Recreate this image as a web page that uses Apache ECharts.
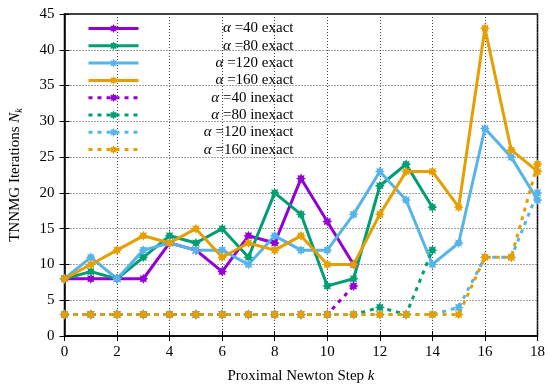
<!DOCTYPE html>
<html>
<head>
<meta charset="utf-8">
<script src="https://cdn.jsdelivr.net/npm/echarts@6/dist/echarts.min.js"></script>
<style>html,body{margin:0;padding:0;background:#fff;}#c{width:548px;height:389px;}</style>
</head>
<body>
<div id="c"></div>
<script>
var steps = [0,1,2,3,4,5,6,7,8,9,10,11,12,13,14,15,16,17,18];
var exact40  = [8,8,8,8,13,12,9,14,13,22,16,10];
var exact80  = [8,9,8,11,14,13,15,11,20,17,7,8,21,24,18];
var exact120 = [8,11,8,12,13,12,12,10,14,12,12,17,23,19,10,13,29,25,19];
var exact160 = [8,10,12,14,13,15,11,13,12,14,10,10,17,23,23,18,43,26,23];
var inexact40  = [3,3,3,3,3,3,3,3,3,3,3,7];
var inexact80  = [3,3,3,3,3,3,3,3,3,3,3,3,4,3,12];
var inexact120 = [3,3,3,3,3,3,3,3,3,3,3,3,3,3,3,4,11,11,20];
var inexact160 = [3,3,3,3,3,3,3,3,3,3,3,3,3,3,3,3,11,11,24];
var alphas = ['40','80','120','160'];
var colors = ['#9400d3','#009e73','#56b4e9','#e69f00'];
var xTicks = [0,2,4,6,8,10,12,14,16,18];
var yTicks = [0,5,10,15,20,25,30,35,40,45];

function pairs(vals){ return vals.map(function(v,i){ return [steps[i], v]; }); }

// asterisk-like star marker
var pts = [];
for (var i = 0; i < 16; i++) {
  var a = i * Math.PI / 8;
  var r = (i % 2 === 0) ? 10 : 6;
  pts.push((10 + r * Math.sin(a)).toFixed(2) + ' ' + (10 - r * Math.cos(a)).toFixed(2));
}
var star = 'path://M' + pts.join(' L') + ' Z';

var FONT = 'Liberation Serif';
var exactSets = [exact40, exact80, exact120, exact160];
var inexactSets = [inexact40, inexact80, inexact120, inexact160];
var series = [];
var names = [];
exactSets.forEach(function(d, i){
  var nm = 'α =' + alphas[i] + ' exact';
  names.push(nm);
  series.push({name: nm, type: 'line', data: pairs(d), symbol: star, symbolSize: 10,
    color: colors[i], lineStyle: {width: 3, color: colors[i]}, itemStyle: {color: colors[i]},
    animation: false, z: 2});
});
inexactSets.forEach(function(d, i){
  var nm = 'α =' + alphas[i] + ' inexact';
  names.push(nm);
  series.push({name: nm, type: 'line', data: pairs(d), symbol: star, symbolSize: 10,
    color: colors[i], lineStyle: {width: 3, color: colors[i], type: [4, 5]}, itemStyle: {color: colors[i]},
    animation: false, z: 3});
});

var chart = echarts.init(document.getElementById('c'), null, {renderer: 'canvas'});
var gridLine = {show: true, lineStyle: {color: '#444', type: [1, 2], width: 1}};
chart.setOption({
  backgroundColor: '#fff',
  animation: false,
  grid: {left: 64, right: 8, top: 14, bottom: 49, show: true, borderColor: '#000', borderWidth: 1.5, backgroundColor: 'transparent'},
  legend: {
    data: names, orient: 'vertical', left: 82, top: 16, itemWidth: 50, itemHeight: 11, itemGap: 2.3,
    lineStyle: {width: 3},
    formatter: function(n){ return '{a|α}{b|' + n.slice(1) + '}'; },
    textStyle: {fontFamily: FONT, fontSize: 15, color: '#000', width: 150,
      rich: {a: {fontFamily: FONT, fontSize: 15, fontStyle: 'italic', color: '#000', align: 'right'},
             b: {fontFamily: FONT, fontSize: 15, color: '#000', align: 'right'}}}
  },
  xAxis: [{
    type: 'value', min: 0, max: 18, interval: 2,
    name: 'Proximal Newton Step {k|k}', nameLocation: 'middle', nameGap: 33,
    nameTextStyle: {fontFamily: FONT, fontSize: 15, color: '#000', rich: {k: {fontFamily: FONT, fontSize: 15, fontStyle: 'italic', color: '#000'}}},
    axisLine: {show: true, lineStyle: {color: '#000', width: 1.5}},
    axisTick: {show: true, inside: true, length: 5, lineStyle: {color: '#000'}},
    axisLabel: {fontFamily: FONT, fontSize: 15, color: '#000', margin: 9},
    splitLine: gridLine
  }, {
    type: 'value', min: 0, max: 18, interval: 2, position: 'top',
    axisLine: {show: false}, axisTick: {show: true, inside: true, length: 5, lineStyle: {color: '#000'}},
    axisLabel: {show: false}, splitLine: {show: false}
  }],
  yAxis: [{
    type: 'value', min: 0, max: 45, interval: 5,
    name: 'TNNMG Iterations {n|N}{s|k}', nameLocation: 'middle', nameGap: 40, nameRotate: 90,
    nameTextStyle: {fontFamily: FONT, fontSize: 15, color: '#000', rich: {
      n: {fontFamily: FONT, fontSize: 15, fontStyle: 'italic', color: '#000'},
      s: {fontFamily: FONT, fontSize: 10, fontStyle: 'italic', color: '#000', verticalAlign: 'bottom', padding: [8, 0, 0, 0]}}},
    axisLine: {show: true, lineStyle: {color: '#000', width: 1.5}},
    axisTick: {show: true, inside: true, length: 5, lineStyle: {color: '#000'}},
    axisLabel: {fontFamily: FONT, fontSize: 15, color: '#000', margin: 10},
    splitLine: gridLine
  }, {
    type: 'value', min: 0, max: 45, interval: 5, position: 'right',
    axisLine: {show: false}, axisTick: {show: true, inside: true, length: 5, lineStyle: {color: '#000'}},
    axisLabel: {show: false}, splitLine: {show: false}
  }],
  series: series
});
</script>
</body>
</html>
